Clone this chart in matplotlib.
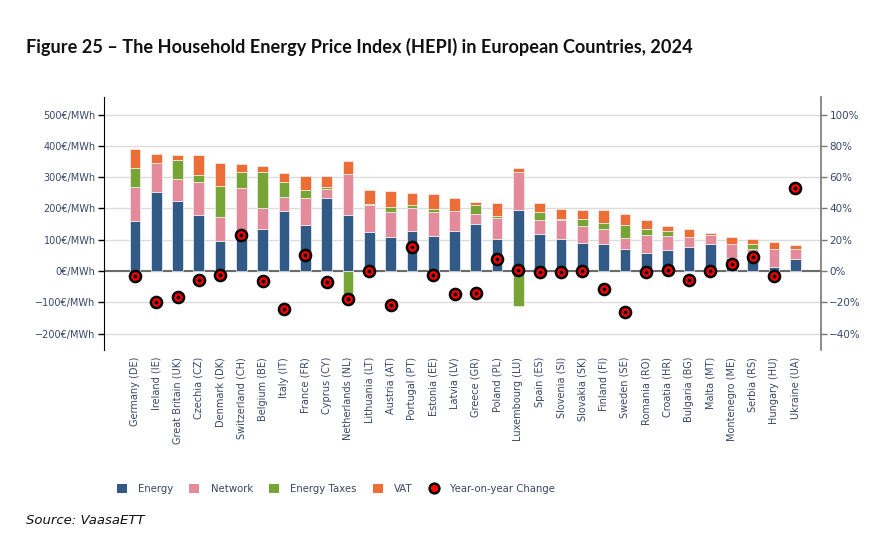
import numpy as np
import matplotlib.pyplot as plt
from matplotlib.patches import Patch
from matplotlib.lines import Line2D

countries = ['Germany (DE)', 'Ireland (IE)', 'Great Britain (UK)', 'Czechia (CZ)',
             'Denmark (DK)', 'Switzerland (CH)', 'Belgium (BE)', 'Italy (IT)',
             'France (FR)', 'Cyprus (CY)', 'Netherlands (NL)', 'Lithuania (LT)',
             'Austria (AT)', 'Portugal (PT)', 'Estonia (EE)', 'Latvia (LV)',
             'Greece (GR)', 'Poland (PL)', 'Luxembourg (LU)', 'Spain (ES)',
             'Slovenia (SI)', 'Slovakia (SK)', 'Finland (FI)', 'Sweden (SE)',
             'Romania (RO)', 'Croatia (HR)', 'Bulgaria (BG)', 'Malta (MT)',
             'Montenegro (ME)', 'Serbia (RS)', 'Hungary (HU)', 'Ukraine (UA)']

# €/MWh
energy = [161, 252, 223, 178, 97, 105, 135, 191, 148, 234, 180, 126, 110, 129, 113, 129,
          151, 104, 194, 117, 104, 90, 87, 72, 58, 68, 78, 88, 43, 50, 12, 40]
network = [106, 92, 72, 106, 76, 161, 67, 47, 86, 29, 129, 86, 79, 71, 77, 62,
           31, 64, 121, 46, 58, 54, 46, 34, 57, 45, 30, 28, 45, 22, 60, 29]
taxes = [61, 0, 61, 24, 100, 49, 113, 45, 26, 7, -90, 2, 16, 10, 9, 0,
         28, 8, -112, 27, 3, 21, 22, 41, 18, 16, 0, 0, 0, 15, 0, 0]
vat = [61, 31, 15, 63, 71, 28, 20, 29, 44, 34, 44, 45, 52, 39, 46, 42,
       11, 40, 15, 27, 33, 31, 39, 35, 29, 15, 25, 6, 20, 17, 21, 14]
# %
yoy = [-3.4, -20, -16.4, -6, -2.3, 23, -6.2, -24.5, 10.4, -7.2, -18, 0.2, -21.5, 15.7, -2.5, -14.5,
       -13.8, 7.7, 0.9, -0.4, -0.6, 0.2, -11.5, -26, -0.6, 0.4, -6, 0, 4.3, 9.1, -3.2, 53]

col_energy = '#315a87'
col_network = '#e38b9b'
col_taxes = '#76a535'
col_vat = '#ec6e36'
txt_col = '#3a4766'

plt.rcParams['font.family'] = ['DejaVu Sans']

fig = plt.figure(figsize=(8.83, 5.38), dpi=100)
ax = fig.add_axes([104 / 883, 1 - 350 / 538, 717 / 883, 253 / 538])

x = np.arange(len(countries))
w = 0.5
pos_bottom = np.zeros(len(x))
neg_bottom = np.zeros(len(x))
for vals, col in [(energy, col_energy), (network, col_network), (taxes, col_taxes), (vat, col_vat)]:
    v = np.array(vals, dtype=float)
    bottom = np.where(v >= 0, pos_bottom, neg_bottom)
    ax.bar(x, v, w, bottom=bottom, color=col, edgecolor='#f2f2f2', linewidth=0.5, zorder=3)
    pos_bottom += np.where(v > 0, v, 0)
    neg_bottom += np.where(v < 0, v, 0)

ax.set_xlim(-1.45, 32.2)
ax.set_ylim(-252, 556)
ax.set_yticks(np.arange(-200, 501, 100))
ax.set_yticklabels([f'{v}€/MWh'.replace('-', '\u2212') for v in range(-200, 501, 100)])
ax.grid(axis='y', color='#dcdcdc', linewidth=1, zorder=0)
ax.axhline(0, color='#6b6b6b', linewidth=1.5, zorder=2)
ax.set_xticks(x)
ax.set_xticklabels(countries, rotation=90, fontsize=7, color=txt_col)
ax.tick_params(axis='x', length=0, pad=5)
ax.tick_params(axis='y', length=4, width=1, colors='black', labelcolor=txt_col, labelsize=7, pad=2)
for s in ['top', 'right', 'bottom']:
    ax.spines[s].set_visible(False)
ax.spines['left'].set_color('black')

ax2 = ax.twinx()
ax2.set_ylim(-252 / 5, 556 / 5)
ax2.set_yticks(np.arange(-40, 101, 20))
ax2.set_yticklabels([f'{v}%'.replace('-', '\u2212') for v in range(-40, 101, 20)])
ax2.tick_params(axis='y', length=4, width=1, colors='#777777', labelcolor=txt_col, labelsize=7.5, pad=2)
for s in ['top', 'left', 'bottom']:
    ax2.spines[s].set_visible(False)
ax2.spines['right'].set_color('#777777')
ax2.spines['right'].set_linewidth(1.2)
ax2.plot(x, yoy, 'o', markersize=8, markerfacecolor='#ff0000', markeredgecolor='black',
         markeredgewidth=1.8, linestyle='none', zorder=5)
ax2.plot(x, yoy, 'o', markersize=1.8, color='black', linestyle='none', zorder=6)

fig.text(26 / 883, 1 - 47 / 538, 'Figure 25 \u2013 The Household Energy Price Index (HEPI) in European Countries, 2024',
         fontsize=13.1, fontweight='bold', family='Lato', va='center', ha='left', color='#111111')
fig.text(26 / 883, 1 - 520 / 538, 'Source: VaasaETT', fontsize=9.5, style='italic',
         va='center', ha='left', color='#111111')

handles = [Patch(facecolor=col_energy, edgecolor='none'),
           Patch(facecolor=col_network, edgecolor='none'),
           Patch(facecolor=col_taxes, edgecolor='none'),
           Patch(facecolor=col_vat, edgecolor='none'),
           Line2D([], [], marker='o', markersize=7, markerfacecolor='#ff0000',
                  markeredgecolor='black', markeredgewidth=1.8, linestyle='none')]
labels = ['Energy', 'Network', 'Energy Taxes', 'VAT', 'Year-on-year Change']
fig.legend(handles, labels, loc='center left', bbox_to_anchor=(116.5 / 883, 1 - 489 / 538), ncol=5,
           frameon=False, fontsize=7.3, handlelength=1.0, handleheight=1.0, handletextpad=1.1,
           columnspacing=1.6, borderpad=0, borderaxespad=0, labelcolor=txt_col)

fig.savefig('out.png', dpi=100)
